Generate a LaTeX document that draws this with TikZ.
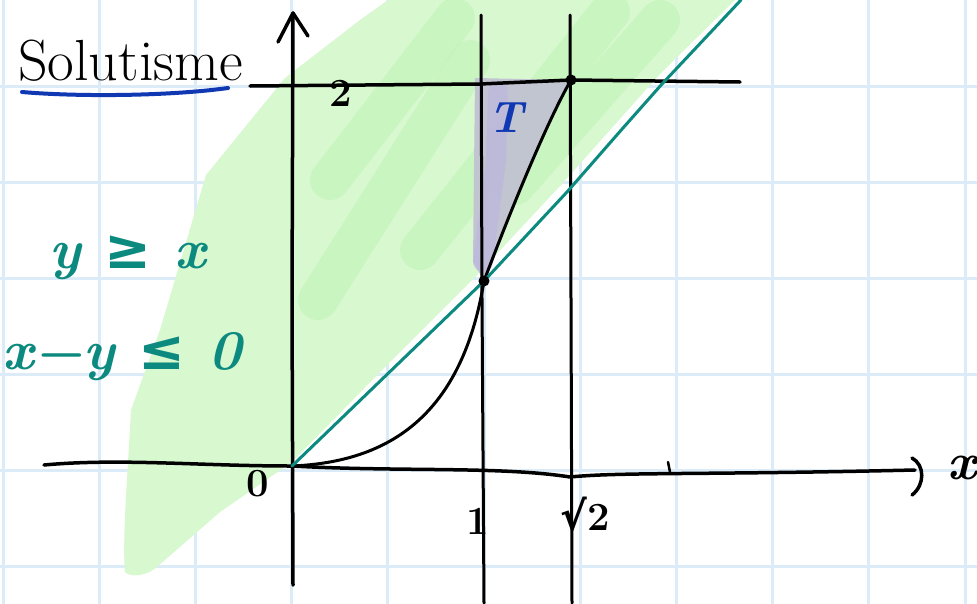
\documentclass[tikz,border=0pt]{standalone}
\usepackage{fontspec}
\newfontfamily\symfont{DejaVu Sans}
\usepackage{tikz}
\usetikzlibrary{positioning,calc}
\definecolor{gridblue}{RGB}{220,235,248}
\definecolor{bandlight}{RGB}{216,248,208}
\definecolor{banddark}{RGB}{196,244,186}
\definecolor{tealc}{RGB}{12,138,128}
\definecolor{inkblue}{RGB}{16,56,178}
\definecolor{regiongrey}{RGB}{192,192,210}
\definecolor{regionpurple}{RGB}{186,174,230}

\begin{document}
\begin{tikzpicture}[x=1pt, y=-1pt, line cap=round, line join=round,
  gridline/.style={gridblue, line width=3pt},
  inkline/.style={black, line width=3.5pt},
  tealline/.style={tealc, line width=3pt},
  lbl/.style={inner sep=0pt, font=\fontsize{40}{44}\selectfont\bfseries},
  tealtext/.style={inner sep=0pt, tealc, font=\fontsize{56}{60}\selectfont\bfseries\itshape},
  dot/.style={circle, fill=black, inner sep=0pt, minimum size=11pt}]
\useasboundingbox (0,0) rectangle (977,603);
\fill[white] (0,0) rectangle (977,603);
% grid paper
\foreach \i in {0,...,10} \draw[gridline] (3+96.2*\i,0) -- (3+96.2*\i,603);
\foreach \j in {0,...,5} \draw[gridline] (0,86+96*\j) -- (977,86+96*\j);
% shaded half plane y >= x
\fill[bandlight] (125,572) .. controls (122,540) and (128,470) .. (131,410)
  -- (160,330) -- (206,175) -- (285,78) -- (360,20) -- (388,0) -- (735,0)
  -- (660,74) -- (560,186) -- (478,274) -- (388,364) -- (292,462)
  -- (220,512) -- (158,566) .. controls (148,576) and (130,578) .. (125,572) -- cycle;
\begin{scope}[banddark, line width=40pt, opacity=0.7]
\draw (318,300) -- (470,60);
\draw (330,180) -- (455,18);
\draw (420,250) -- (610,12);
\draw (515,185) -- (660,20);
\end{scope}
% region T
\coordinate (O) at (292,466);
\coordinate (A) at (484,281);
\coordinate (B) at (571,80);
\fill[regiongrey, opacity=0.9] (475,78) -- (B) .. controls (545,125) and (505,225) .. (A)
  -- (473,262) -- cycle;
\draw[regionpurple, line width=20pt, opacity=0.45] (498,92) -- (496,160) -- (483,262);
% lines x = 1, x = sqrt 2 and y = 2
\draw[inkline, line width=3pt] (481,15) -- (482,300) -- (484,603);
\draw[inkline, line width=3pt] (570,15) -- (571,300) -- (572,603);
\draw[inkline] (250,86) -- (480,84) -- (B) -- (740,82);
% axes
\draw[inkline] (44,465) .. controls (120,458) and (200,466) .. (O)
  .. controls (400,472) and (500,466) .. (570,477)
  .. controls (620,472) and (700,475) .. (915,470);
\draw[inkline] (912,458) .. controls (925,465) and (925,485) .. (912,495);
\draw[inkline, line width=2.5pt] (668,462) -- (670,472);
\draw[inkline] (293,585) -- (292,300) -- (293,13);
\draw[inkline] (278,42) -- (293,13) -- (308,36);
% curve and line y = x
\draw[inkline, line width=3pt] (O) .. controls (390,462) and (462,415) .. (A)
  .. controls (505,225) and (545,125) .. (B);
\draw[tealline] (O) -- (A) -- (567,192) -- (623,128) -- (662,84) -- (741,0);
\node[dot] (p1) at (A) {};
\node[dot] (p2) at (B) {};
% labels
\node[inner sep=0pt, font=\fontsize{58}{62}\selectfont, anchor=base west] (title) at (18,80) {Solutisme};
\draw[inkblue, line width=4pt] (22,92) .. controls (80,97) and (170,96) .. (228,88);
\node[tealtext] (ineq1) at (128,258) {y {\symfont ≥} x};
\node[tealtext] (ineq2) at (122,357) {x−y {\symfont ≤} 0};
\node[lbl] (zero) at (258,484) {0};
\node[lbl] (one) at (478,521) {1};
\node[lbl] (rt2) at (585,514) {{\symfont √}2};
\node[lbl] (two) at (341,93) {2};
\node[lbl, font=\fontsize{52}{56}\selectfont\bfseries\itshape] (xlab) at (962,468) {x};
\node[lbl, inkblue, font=\fontsize{44}{48}\selectfont\bfseries\itshape] (T) at (506,118) {T};
\end{tikzpicture}
\end{document}
